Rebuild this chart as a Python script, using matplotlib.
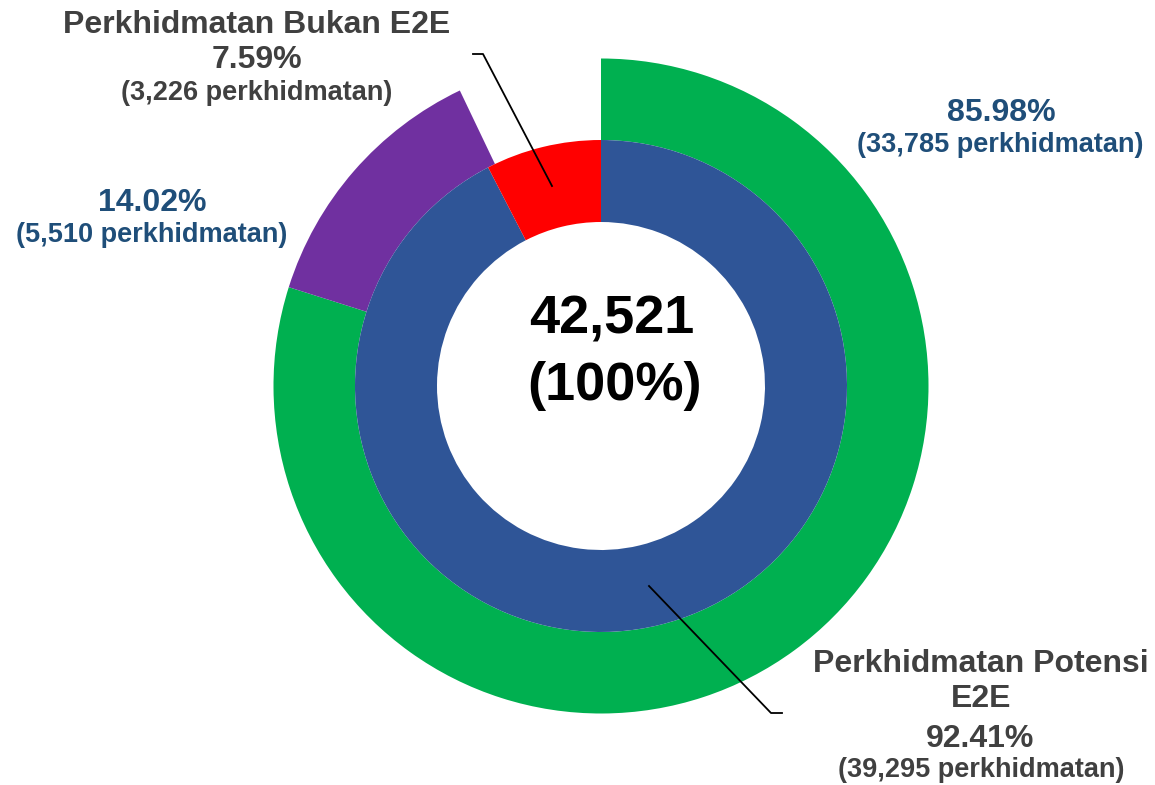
import matplotlib
matplotlib.use("Agg")
import matplotlib.pyplot as plt

plt.rcParams['font.family'] = ['Liberation Sans', 'DejaVu Sans']

# data
inner_labels = ['Perkhidmatan Potensi E2E', 'Perkhidmatan Bukan E2E']
inner_values = [39295, 3226]
inner_colors = ['#2F5597', '#FF0000']

outer_values = [33785, 5510]
outer_gap = 3000          # empty space above the red slice
outer_colors = ['#00B050', '#7030A0', 'none']

total = 42521

W, H = 1155, 785
CX, CY = 601, 386          # centre of the rings, image pixels


def fy(y):
    # image y (top-down) -> data y (bottom-up)
    return H - y


fig = plt.figure(figsize=(W / 100, H / 100), dpi=100)
ax = fig.add_axes([0, 0, 1, 1])

ax.pie(outer_values + [outer_gap], radius=327.5, center=(CX, fy(CY)), startangle=90,
       counterclock=False, colors=outer_colors,
       wedgeprops=dict(width=81.5, linewidth=0))
ax.pie(inner_values, radius=246, center=(CX, fy(CY)), startangle=90,
       counterclock=False, colors=inner_colors,
       wedgeprops=dict(width=82, linewidth=0))

ax.set_xlim(0, W)
ax.set_ylim(0, H)
ax.set_aspect('equal')
ax.axis('off')

grey = '#404040'
navy = '#1F4E79'


def label(x, y, s, size, color):
    ax.text(x, fy(y), s, ha='center', va='baseline', fontsize=size,
            fontweight='bold', color=color)


# centre total
label(612, 333, f'{total:,}', 39, 'black')
label(615, 400, '(100%)', 39, 'black')

# inner ring labels
red_pct = inner_values[1] / total * 100
blue_pct = inner_values[0] / total * 100
label(257, 33, inner_labels[1], 23, grey)
label(257, 68, f'{red_pct:.2f}%', 23, grey)
label(257, 100, f'({inner_values[1]:,} perkhidmatan)', 19.5, grey)

label(981, 672, 'Perkhidmatan Potensi', 23, grey)
label(981, 707, 'E2E', 23, grey)
label(980, 747, f'{blue_pct:.2f}%', 23, grey)
label(981, 777, f'({inner_values[0]:,} perkhidmatan)', 19.5, grey)

# outer ring labels (share of the potential E2E services)
green_pct = outer_values[0] / inner_values[0] * 100
purple_pct = outer_values[1] / inner_values[0] * 100
label(1001, 121, f'{green_pct:.2f}%', 23, navy)
label(1000, 152, f'({outer_values[0]:,} perkhidmatan)', 19.5, navy)
label(152, 211, f'{purple_pct:.2f}%', 23, navy)
label(152, 242, f'({outer_values[1]:,} perkhidmatan)', 19.5, navy)

# leader lines
ax.plot([473, 483, 552], [fy(54), fy(54), fy(186)], color='black', lw=1.3)
ax.plot([649, 771, 782], [fy(586), fy(713), fy(713)], color='black', lw=1.3)

fig.savefig('out.png', dpi=100)
